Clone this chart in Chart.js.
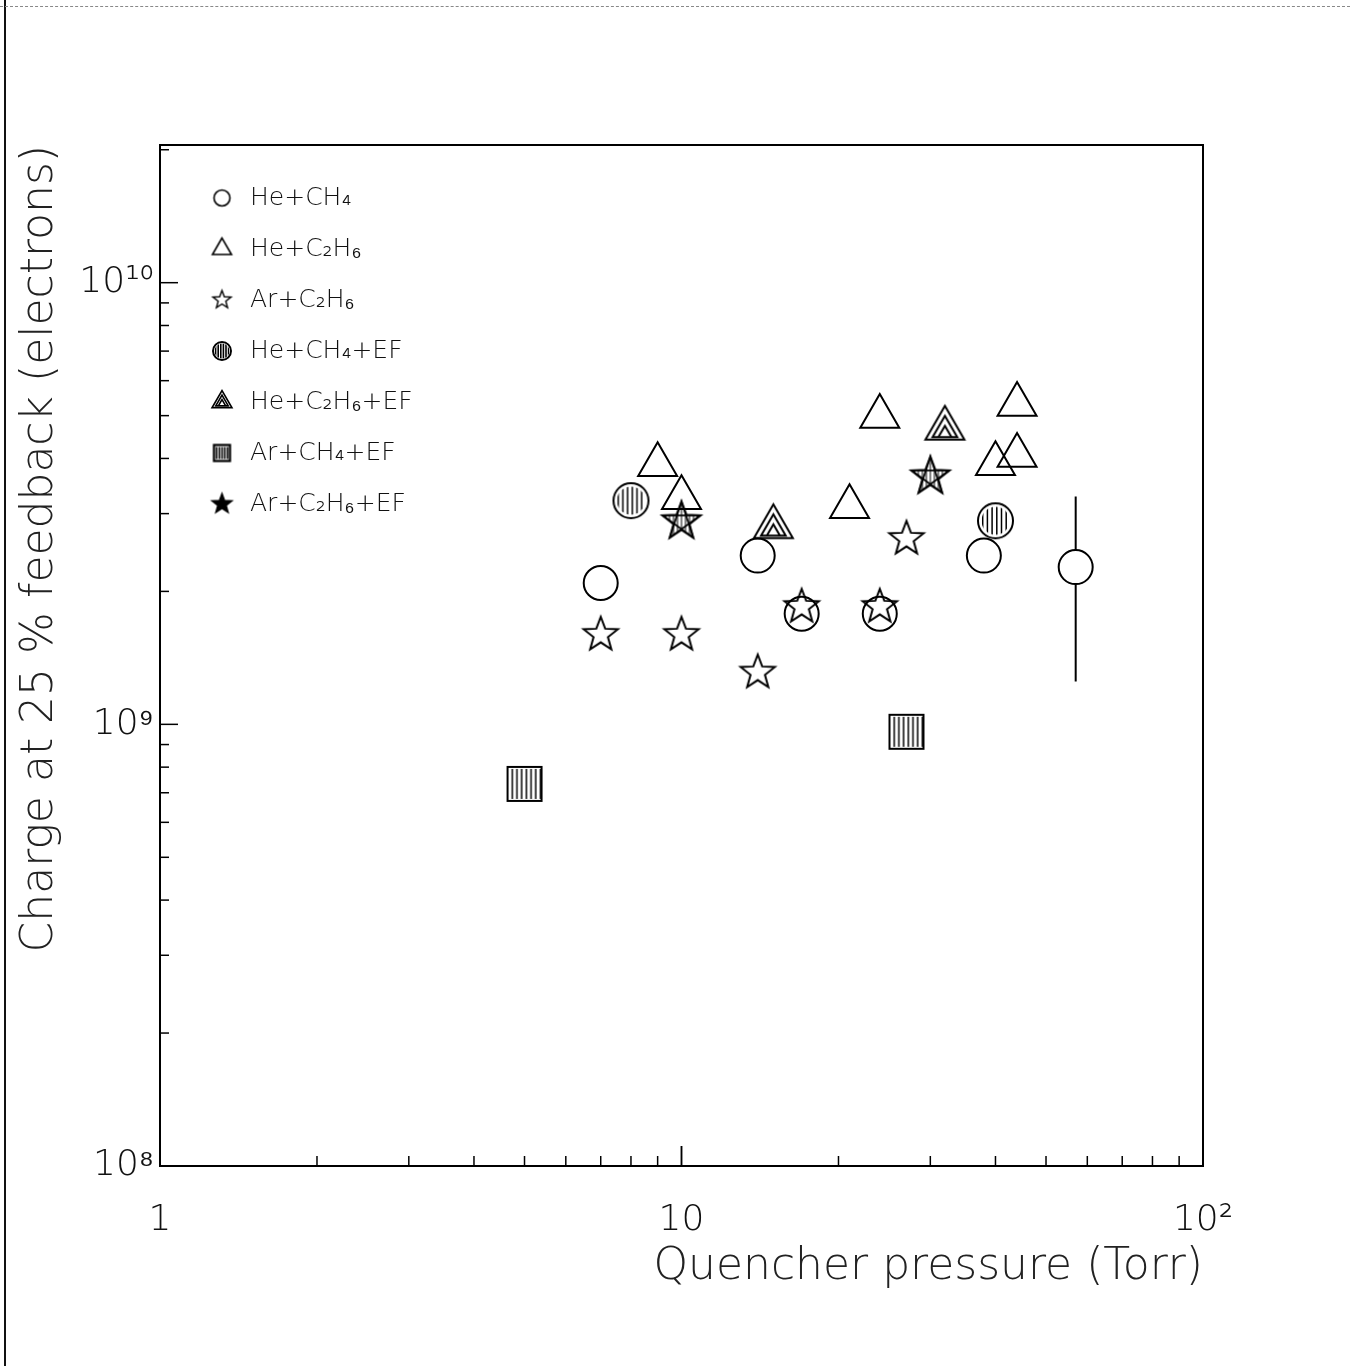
<!DOCTYPE html>
<html>
<head>
<meta charset="utf-8">
<title>Charge at 25 % feedback vs quencher pressure</title>
<script src="https://cdn.jsdelivr.net/npm/chart.js@4.4.0/dist/chart.umd.min.js"></script>
<style>
  html, body { margin: 0; padding: 0; background: #fff; }
  #wrap { position: relative; width: 1350px; height: 1366px; }
  #edgeLeft { position: absolute; left: 4px; top: 0; width: 2px; height: 1366px; background: #111; }
  #edgeTop { position: absolute; left: 0; top: 6px; width: 1350px; height: 0; border-top: 1px dashed #888; }
</style>
</head>
<body>
<div id="wrap">
  <canvas id="chart"></canvas>
  <div id="edgeLeft"></div>
  <div id="edgeTop"></div>
</div>
<script>
// Data (x = quencher pressure in Torr, y = charge in electrons)
const heCH4_x = [7, 14, 17, 24, 38, 57];
const heCH4_y = [2.09e9, 2.41e9, 1.78e9, 1.78e9, 2.41e9, 2.27e9];
const heCH4_errLo = [null, null, null, null, null, 1.25e9];
const heCH4_errHi = [null, null, null, null, null, 3.28e9];

const heC2H6_x = [9, 10, 21, 24, 40, 44, 44];
const heC2H6_y = [3.87e9, 3.26e9, 3.11e9, 4.98e9, 3.89e9, 4.06e9, 5.30e9];

const arC2H6_x = [7, 10, 14, 17, 24, 27];
const arC2H6_y = [1.595e9, 1.595e9, 1.31e9, 1.845e9, 1.845e9, 2.63e9];

const heCH4EF_x = [8, 40];
const heCH4EF_y = [3.21e9, 2.89e9];

const heC2H6EF_x = [15, 32];
const heC2H6EF_y = [2.80e9, 4.68e9];

const arCH4EF_x = [5, 27];
const arCH4EF_y = [7.33e8, 9.62e8];

const arC2H6EF_x = [10, 30];
const arC2H6EF_y = [2.88e9, 3.64e9];

const seriesLabels = ['He+CH₄', 'He+C₂H₆', 'Ar+C₂H₆', 'He+CH₄+EF', 'He+C₂H₆+EF', 'Ar+CH₄+EF', 'Ar+C₂H₆+EF'];

const xTickLabels = { 0: '1', 1: '10', 2: '10²' };
const yTickLabels = { 8: '10⁸', 9: '10⁹', 10: '10¹⁰' };

const FONT = '"DejaVu Sans", "Liberation Sans", Arial, sans-serif';

// ---------- marker drawing ----------
function makeCanvas(size, draw) {
    const c = document.createElement('canvas');
    c.width = size;
    c.height = size;
    const ctx = c.getContext('2d');
    ctx.strokeStyle = '#000';
    ctx.fillStyle = '#000';
    draw(ctx, size / 2, size / 2);
    return c;
}

function starPts(cx, cy, R, ratio) {
    const pts = [];
    for (let k = 0; k < 10; k++) {
        const a = -Math.PI / 2 + k * Math.PI / 5;
        const rr = k % 2 === 0 ? R : R * ratio;
        pts.push([cx + rr * Math.cos(a), cy + rr * Math.sin(a)]);
    }
    return pts;
}

function polyPath(ctx, pts, close) {
    ctx.beginPath();
    pts.forEach((p, i) => i ? ctx.lineTo(p[0], p[1]) : ctx.moveTo(p[0], p[1]));
    if (close !== false) ctx.closePath();
}

function openStar(R, lw, filled) {
    return makeCanvas(Math.ceil(2 * R + 4 * lw), (ctx, cx, cy) => {
        ctx.lineWidth = lw;
        polyPath(ctx, starPts(cx, cy, R, 0.42));
        if (filled) ctx.fill();
        ctx.stroke();
    });
}

function pentagramStar(R, lw) {
    return makeCanvas(Math.ceil(2 * R + 4 * lw), (ctx, cx, cy) => {
        ctx.lineWidth = lw;
        const pts = starPts(cx, cy, R, 0.42);
        polyPath(ctx, pts);
        ctx.stroke();
        const o = pts.filter((_, k) => k % 2 === 0);
        polyPath(ctx, [o[0], o[2], o[4], o[1], o[3]]);
        ctx.lineWidth = lw * 0.9;
        ctx.stroke();
        // inner vertical hatching, clipped to the star
        ctx.save();
        polyPath(ctx, pts);
        ctx.clip();
        ctx.lineWidth = 1;
        for (let dx = -R; dx <= R; dx += 4) {
            ctx.beginPath();
            ctx.moveTo(cx + dx, cy - R);
            ctx.lineTo(cx + dx, cy + R);
            ctx.stroke();
        }
        ctx.restore();
    });
}

function hatchedCircle(r, lw, step, hatchLw, gap) {
    return makeCanvas(Math.ceil(2 * r + 4 * lw), (ctx, cx, cy) => {
        ctx.lineWidth = lw;
        ctx.beginPath();
        ctx.arc(cx, cy, r, 0, Math.PI * 2);
        ctx.stroke();
        ctx.save();
        ctx.beginPath();
        ctx.arc(cx, cy, r - gap, 0, Math.PI * 2);
        ctx.clip();
        ctx.lineWidth = hatchLw;
        for (let dx = -r; dx <= r; dx += step) {
            ctx.beginPath();
            ctx.moveTo(cx + dx, cy - r);
            ctx.lineTo(cx + dx, cy + r);
            ctx.stroke();
        }
        ctx.restore();
    });
}

function nestedTriangle(R, lw, d) {
    return makeCanvas(Math.ceil(2 * R + 4 * lw), (ctx, cx, cy) => {
        ctx.lineWidth = lw;
        const t30 = Math.tan(Math.PI / 6);
        const baseY = cy + R / 2;
        const tri = (off, base, close) => {
            const h = 1.5 * R - off - base;
            const hw = h * t30;
            const by = baseY - base;
            polyPath(ctx, [[cx - hw, by], [cx, by - h], [cx + hw, by]], close);
            ctx.stroke();
        };
        tri(0, 0, true);
        tri(d, lw * 1.2, true);
        tri(2 * d, lw * 1.2, false);
    });
}

function hatchedSquare(s, lw, step, hatchLw) {
    return makeCanvas(Math.ceil(s + 4 * lw), (ctx, cx, cy) => {
        ctx.lineWidth = lw;
        ctx.strokeRect(cx - s / 2, cy - s / 2, s, s);
        ctx.lineWidth = hatchLw;
        for (let dx = -s / 2 + step; dx < s / 2 - 1; dx += step) {
            ctx.beginPath();
            ctx.moveTo(cx + dx, cy - s / 2 + 2);
            ctx.lineTo(cx + dx, cy + s / 2 - 2);
            ctx.stroke();
        }
    });
}

function openCircle(r, lw) {
    return makeCanvas(Math.ceil(2 * r + 4 * lw), (ctx, cx, cy) => {
        ctx.lineWidth = lw;
        ctx.beginPath();
        ctx.arc(cx, cy, r, 0, Math.PI * 2);
        ctx.stroke();
    });
}

function openTriangle(R, lw) {
    return makeCanvas(Math.ceil(2 * R + 4 * lw), (ctx, cx, cy) => {
        ctx.lineWidth = lw;
        const s = Math.sin(Math.PI / 3);
        polyPath(ctx, [[cx, cy - R], [cx - R * s, cy + R / 2], [cx + R * s, cy + R / 2]]);
        ctx.stroke();
    });
}

const markers = {
    heCH4EF: hatchedCircle(17.5, 2, 4.7, 1.5, 3.5),
    arC2H6: openStar(18, 2, false),
    heC2H6EF: nestedTriangle(22.5, 2, 10),
    arCH4EF: hatchedSquare(34, 2, 4.7, 1.5),
    arC2H6EF: pentagramStar(20, 2)
};

const legendMarkers = [
    openCircle(8, 1.6),
    openTriangle(11, 1.6),
    openStar(9.5, 1.4, false),
    hatchedCircle(9, 2, 2.6, 1.6, 1.5),
    nestedTriangle(11.5, 1.6, 4.5),
    hatchedSquare(16, 2.2, 2.7, 1.6),
    openStar(10.5, 1.4, true)
];

function pts(xs, ys) {
    return xs.map((x, i) => ({ x: x, y: ys[i] }));
}

function isDecade(v) {
    const l = Math.log10(v);
    return Math.abs(l - Math.round(l)) < 1e-9;
}

// ---------- plugins ----------
const errorBars = {
    id: 'errorBars',
    afterDatasetsDraw(chart) {
        const meta = chart.getDatasetMeta(0);
        const y = chart.scales.y;
        const ctx = chart.ctx;
        const r = chart.data.datasets[0].pointRadius;
        ctx.save();
        ctx.strokeStyle = '#000';
        ctx.lineWidth = 2;
        meta.data.forEach((pt, i) => {
            if (heCH4_errHi[i] == null) return;
            const top = y.getPixelForValue(heCH4_errHi[i]);
            const bot = y.getPixelForValue(heCH4_errLo[i]);
            ctx.beginPath();
            ctx.moveTo(pt.x, top);
            ctx.lineTo(pt.x, pt.y - r);
            ctx.moveTo(pt.x, pt.y + r);
            ctx.lineTo(pt.x, bot);
            ctx.stroke();
        });
        ctx.restore();
    }
};

const frameAndTicks = {
    id: 'frameAndTicks',
    afterDraw(chart) {
        const { ctx, chartArea: a, scales } = chart;
        ctx.save();
        ctx.strokeStyle = '#000';
        ctx.lineWidth = 2;
        ctx.strokeRect(a.left, a.top, a.right - a.left, a.bottom - a.top);
        ctx.lineWidth = 1.5;
        // inward ticks on the bottom axis
        for (let e = 0; e <= 1; e++) {
            for (let m = 1; m <= 10; m++) {
                const v = m * Math.pow(10, e);
                const px = scales.x.getPixelForValue(v);
                const len = (m === 1 || m === 10) ? 20 : 10;
                ctx.beginPath();
                ctx.moveTo(px, a.bottom);
                ctx.lineTo(px, a.bottom - len);
                ctx.stroke();
            }
        }
        // inward ticks on the left axis
        for (let e = 8; e <= 10; e++) {
            for (let m = 1; m <= 9; m++) {
                const v = m * Math.pow(10, e);
                if (v > scales.y.max) continue;
                const py = scales.y.getPixelForValue(v);
                const len = m === 1 ? 18 : 9;
                ctx.beginPath();
                ctx.moveTo(a.left, py);
                ctx.lineTo(a.left + len, py);
                ctx.stroke();
            }
        }
        ctx.restore();
    }
};

const insideLegend = {
    id: 'insideLegend',
    afterDraw(chart) {
        const { ctx, chartArea: a } = chart;
        ctx.save();
        ctx.fillStyle = '#111';
        ctx.font = '200 25px ' + FONT;
        ctx.textBaseline = 'middle';
        chart.data.datasets.forEach((ds, i) => {
            const cy = a.top + 53 + i * 51;
            const mk = legendMarkers[i];
            ctx.drawImage(mk, a.left + 62 - mk.width / 2, cy - mk.height / 2);
            ctx.fillText(ds.label, a.left + 90, cy);
        });
        ctx.restore();
    }
};

// ---------- chart ----------
Chart.defaults.font.family = FONT;
Chart.defaults.font.weight = 200;
Chart.defaults.color = '#111';

const common = { borderColor: '#000', backgroundColor: 'rgba(0,0,0,0)', borderWidth: 2, pointHoverRadius: 0 };

new Chart(document.getElementById('chart'), {
    type: 'scatter',
    data: {
        datasets: [
            Object.assign({ label: seriesLabels[0], data: pts(heCH4_x, heCH4_y), pointStyle: 'circle', pointRadius: 17 }, common),
            Object.assign({ label: seriesLabels[1], data: pts(heC2H6_x, heC2H6_y), pointStyle: 'triangle', pointRadius: 22.5 }, common),
            Object.assign({ label: seriesLabels[2], data: pts(arC2H6_x, arC2H6_y), pointStyle: markers.arC2H6, pointRadius: 18 }, common),
            Object.assign({ label: seriesLabels[3], data: pts(heCH4EF_x, heCH4EF_y), pointStyle: markers.heCH4EF, pointRadius: 18 }, common),
            Object.assign({ label: seriesLabels[4], data: pts(heC2H6EF_x, heC2H6EF_y), pointStyle: markers.heC2H6EF, pointRadius: 22 }, common),
            Object.assign({ label: seriesLabels[5], data: pts(arCH4EF_x, arCH4EF_y), pointStyle: markers.arCH4EF, pointRadius: 18 }, common),
            Object.assign({ label: seriesLabels[6], data: pts(arC2H6EF_x, arC2H6EF_y), pointStyle: markers.arC2H6EF, pointRadius: 20 }, common)
        ]
    },
    options: {
        responsive: true,
        maintainAspectRatio: false,
        animation: false,
        layout: { padding: { left: 0, top: 145, right: 147, bottom: 0 } },
        plugins: {
            legend: { display: false },
            tooltip: { enabled: false }
        },
        scales: {
            x: {
                type: 'logarithmic',
                min: 1,
                max: 100,
                grid: { display: false, drawTicks: false },
                border: { display: false },
                afterFit: (s) => { s.height = 200; },
                ticks: {
                    autoSkip: false,
                    maxRotation: 0,
                    padding: 33,
                    font: { size: 36, weight: 200 },
                    callback: (v) => isDecade(v) ? (xTickLabels[Math.round(Math.log10(v))] ?? null) : null
                },
                title: {
                    display: true,
                    text: 'Quencher pressure (Torr)',
                    align: 'end',
                    color: '#222',
                    font: { size: 44, weight: 200 },
                    padding: { top: 0, bottom: 72 }
                }
            },
            y: {
                type: 'logarithmic',
                min: 1e8,
                max: 2.05e10,
                grid: { display: false, drawTicks: false },
                border: { display: false },
                afterFit: (s) => { s.width = 160; },
                ticks: {
                    autoSkip: false,
                    padding: 6,
                    font: { size: 36, weight: 200 },
                    callback: (v) => isDecade(v) ? (yTickLabels[Math.round(Math.log10(v))] ?? null) : null
                },
                title: {
                    display: true,
                    text: 'Charge at 25 % feedback (electrons)',
                    align: 'end',
                    color: '#222',
                    font: { size: 44, weight: 200 },
                    padding: { top: 14, bottom: 0 }
                }
            }
        }
    },
    plugins: [errorBars, frameAndTicks, insideLegend]
});
</script>
</body>
</html>
